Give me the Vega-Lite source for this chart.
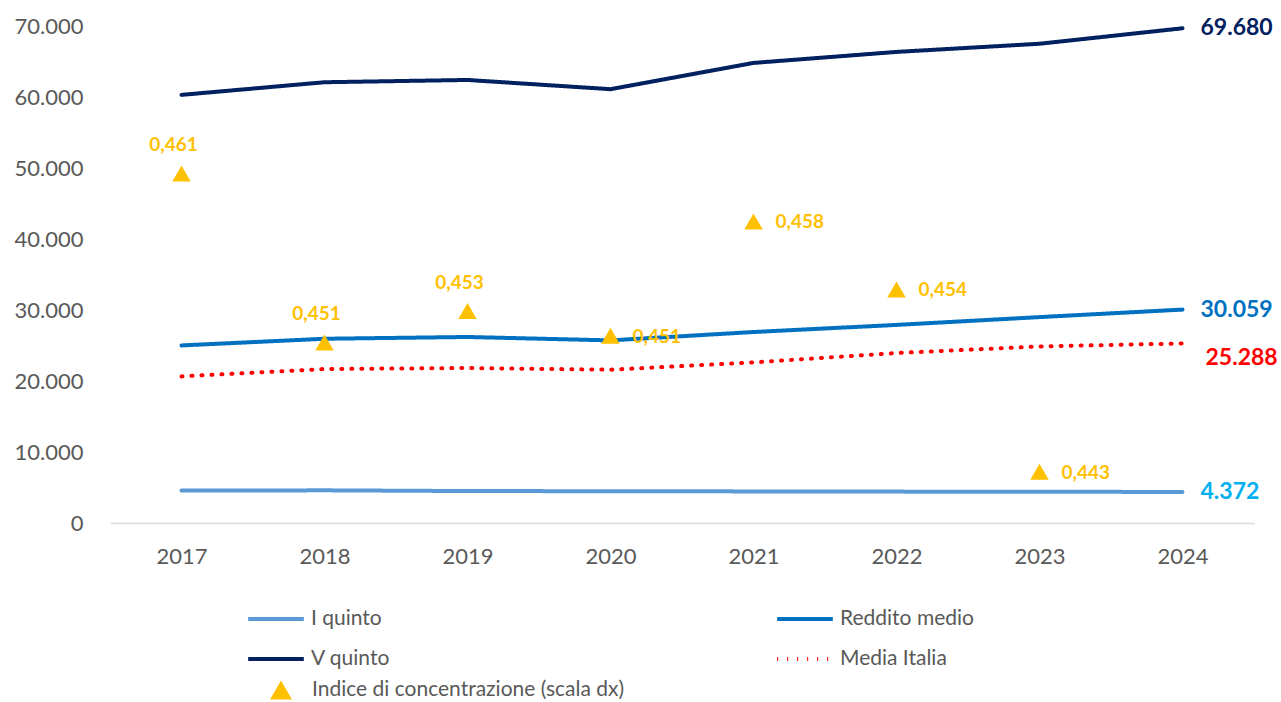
{
  "$schema": "https://vega.github.io/schema/vega-lite/v6.json",
  "width": 1144,
  "height": 497,
  "autosize": {"type": "none"},
  "padding": {"left": 110, "top": 26, "right": 27, "bottom": 179},
  "background": "white",
  "config": {
    "locale": {"number": {"decimal": ",", "thousands": ".", "grouping": [3], "currency": ["", " €"]}},
    "view": {"stroke": null},
    "font": "Lato"
  },
  "datasets": {
    "redditi": [
      {"anno": 2017, "serie": "I quinto", "valore": 4560},
      {"anno": 2018, "serie": "I quinto", "valore": 4600},
      {"anno": 2019, "serie": "I quinto", "valore": 4500},
      {"anno": 2020, "serie": "I quinto", "valore": 4480},
      {"anno": 2021, "serie": "I quinto", "valore": 4450},
      {"anno": 2022, "serie": "I quinto", "valore": 4420},
      {"anno": 2023, "serie": "I quinto", "valore": 4400},
      {"anno": 2024, "serie": "I quinto", "valore": 4372},
      {"anno": 2017, "serie": "Reddito medio", "valore": 25010},
      {"anno": 2018, "serie": "Reddito medio", "valore": 25950},
      {"anno": 2019, "serie": "Reddito medio", "valore": 26200},
      {"anno": 2020, "serie": "Reddito medio", "valore": 25720},
      {"anno": 2021, "serie": "Reddito medio", "valore": 26900},
      {"anno": 2022, "serie": "Reddito medio", "valore": 27900},
      {"anno": 2023, "serie": "Reddito medio", "valore": 29000},
      {"anno": 2024, "serie": "Reddito medio", "valore": 30059},
      {"anno": 2017, "serie": "V quinto", "valore": 60300},
      {"anno": 2018, "serie": "V quinto", "valore": 62080},
      {"anno": 2019, "serie": "V quinto", "valore": 62400},
      {"anno": 2020, "serie": "V quinto", "valore": 61100},
      {"anno": 2021, "serie": "V quinto", "valore": 64800},
      {"anno": 2022, "serie": "V quinto", "valore": 66350},
      {"anno": 2023, "serie": "V quinto", "valore": 67500},
      {"anno": 2024, "serie": "V quinto", "valore": 69680},
      {"anno": 2017, "serie": "Media Italia", "valore": 20650},
      {"anno": 2018, "serie": "Media Italia", "valore": 21690},
      {"anno": 2019, "serie": "Media Italia", "valore": 21830},
      {"anno": 2020, "serie": "Media Italia", "valore": 21590},
      {"anno": 2021, "serie": "Media Italia", "valore": 22620},
      {"anno": 2022, "serie": "Media Italia", "valore": 23940},
      {"anno": 2023, "serie": "Media Italia", "valore": 24870},
      {"anno": 2024, "serie": "Media Italia", "valore": 25288}
    ],
    "indice": [
      {"anno": 2017, "serie": "Indice di concentrazione (scala dx)", "indice": 0.4611},
      {"anno": 2018, "serie": "Indice di concentrazione (scala dx)", "indice": 0.4509},
      {"anno": 2019, "serie": "Indice di concentrazione (scala dx)", "indice": 0.4528},
      {"anno": 2020, "serie": "Indice di concentrazione (scala dx)", "indice": 0.4513},
      {"anno": 2021, "serie": "Indice di concentrazione (scala dx)", "indice": 0.4582},
      {"anno": 2022, "serie": "Indice di concentrazione (scala dx)", "indice": 0.4541},
      {"anno": 2023, "serie": "Indice di concentrazione (scala dx)", "indice": 0.4431}
    ]
  },
  "encoding": {
    "x": {
      "field": "anno",
      "type": "ordinal",
      "scale": {"type": "point", "padding": 0.5},
      "axis": {
        "title": null,
        "labelAngle": 0,
        "labelFontSize": 22,
        "labelColor": "#595959",
        "labelPadding": 23,
        "ticks": false,
        "grid": false,
        "domainColor": "#D9D9D9",
        "domainWidth": 1.5
      }
    }
  },
  "layer": [
    {
      "data": {"name": "redditi"},
      "layer": [
        {
          "mark": {"type": "line", "strokeWidth": 4, "strokeCap": "round"},
          "encoding": {
            "y": {
              "field": "valore",
              "type": "quantitative",
              "scale": {"domain": [0, 70000], "nice": false},
              "axis": {
                "title": null,
                "format": ",.0f",
                "values": [0, 10000, 20000, 30000, 40000, 50000, 60000, 70000],
                "labelFontSize": 22,
                "labelColor": "#595959",
                "labelPadding": 27,
                "ticks": false,
                "domain": false,
                "grid": false
              }
            },
            "color": {
              "field": "serie",
              "type": "nominal",
              "scale": {
                "domain": ["I quinto", "Reddito medio", "V quinto", "Media Italia"],
                "range": ["#5B9BD5", "#0070C0", "#002060", "#FF0000"]
              },
              "legend": {
                "title": null,
                "orient": "none",
                "direction": "horizontal",
                "legendX": 136,
                "legendY": 563,
                "columns": 2,
                "columnPadding": 378,
                "rowPadding": -9,
                "symbolType": "stroke",
                "symbolSize": 3100,
                "symbolStrokeWidth": 4,
                "labelFontSize": 21,
                "labelColor": "#595959",
                "labelOffset": 5
              }
            },
            "strokeDash": {
              "field": "serie",
              "type": "nominal",
              "scale": {
                "domain": ["I quinto", "Reddito medio", "V quinto", "Media Italia"],
                "range": [[1, 0], [1, 0], [1, 0], [1, 9]]
              },
              "legend": {
                "title": null,
                "orient": "none",
                "direction": "horizontal",
                "legendX": 136,
                "legendY": 563,
                "columns": 2,
                "columnPadding": 378,
                "rowPadding": -9,
                "symbolType": "stroke",
                "symbolSize": 3100,
                "symbolStrokeWidth": 4,
                "labelFontSize": 21,
                "labelColor": "#595959",
                "labelOffset": 5
              }
            }
          }
        },
        {
          "transform": [{"filter": "datum.anno == 2024 && datum.serie == 'V quinto'"}],
          "mark": {"type": "text", "align": "left", "baseline": "middle", "dx": 18, "fontSize": 23, "fontWeight": "bold", "color": "#002060"},
          "encoding": {
            "y": {"field": "valore", "type": "quantitative"},
            "text": {"field": "valore", "type": "quantitative", "format": ",.0f"}
          }
        },
        {
          "transform": [{"filter": "datum.anno == 2024 && datum.serie == 'Reddito medio'"}],
          "mark": {"type": "text", "align": "left", "baseline": "middle", "dx": 18, "fontSize": 23, "fontWeight": "bold", "color": "#0070C0"},
          "encoding": {
            "y": {"field": "valore", "type": "quantitative"},
            "text": {"field": "valore", "type": "quantitative", "format": ",.0f"}
          }
        },
        {
          "transform": [{"filter": "datum.anno == 2024 && datum.serie == 'I quinto'"}],
          "mark": {"type": "text", "align": "left", "baseline": "middle", "dx": 18, "fontSize": 23, "fontWeight": "bold", "color": "#00B0F0"},
          "encoding": {
            "y": {"field": "valore", "type": "quantitative"},
            "text": {"field": "valore", "type": "quantitative", "format": ",.0f"}
          }
        },
        {
          "transform": [{"filter": "datum.anno == 2024 && datum.serie == 'Media Italia'"}],
          "mark": {"type": "text", "align": "left", "baseline": "middle", "dx": 23, "dy": 15, "fontSize": 23, "fontWeight": "bold", "color": "#FF0000"},
          "encoding": {
            "y": {"field": "valore", "type": "quantitative"},
            "text": {"field": "valore", "type": "quantitative", "format": ",.0f"}
          }
        }
      ]
    },
    {
      "data": {"name": "indice"},
      "layer": [
        {
          "mark": {"type": "point", "filled": true, "size": 340, "color": "#FFC000", "opacity": 1},
          "encoding": {
            "y": {
              "field": "indice",
              "type": "quantitative",
              "scale": {"domain": [0.44, 0.47], "nice": false, "zero": false},
              "axis": null
            },
            "shape": {
              "field": "serie",
              "type": "nominal",
              "scale": {"range": ["triangle-up"]},
              "legend": {
                "title": null,
                "orient": "none",
                "legendX": 160,
                "legendY": 653,
                "symbolSize": 480,
                "symbolFillColor": "#FFC000",
                "symbolStrokeColor": "#FFC000",
                "symbolStrokeWidth": 0,
                "labelFontSize": 21,
                "labelColor": "#595959",
                "labelOffset": 20,
                "labelLimit": 600
              }
            }
          }
        },
        {
          "transform": [{"filter": "datum.anno <= 2019"}],
          "mark": {"type": "text", "align": "center", "baseline": "middle", "dx": -8, "dy": -28, "fontSize": 19, "fontWeight": "bold", "color": "#FFC000"},
          "encoding": {
            "y": {"field": "indice", "type": "quantitative"},
            "text": {"field": "indice", "type": "quantitative", "format": ".3f"}
          }
        },
        {
          "transform": [{"filter": "datum.anno > 2019"}],
          "mark": {"type": "text", "align": "left", "baseline": "middle", "dx": 22, "dy": 1, "fontSize": 19, "fontWeight": "bold", "color": "#FFC000"},
          "encoding": {
            "y": {"field": "indice", "type": "quantitative"},
            "text": {"field": "indice", "type": "quantitative", "format": ".3f"}
          }
        }
      ]
    }
  ],
  "resolve": {"scale": {"y": "independent"}}
}
